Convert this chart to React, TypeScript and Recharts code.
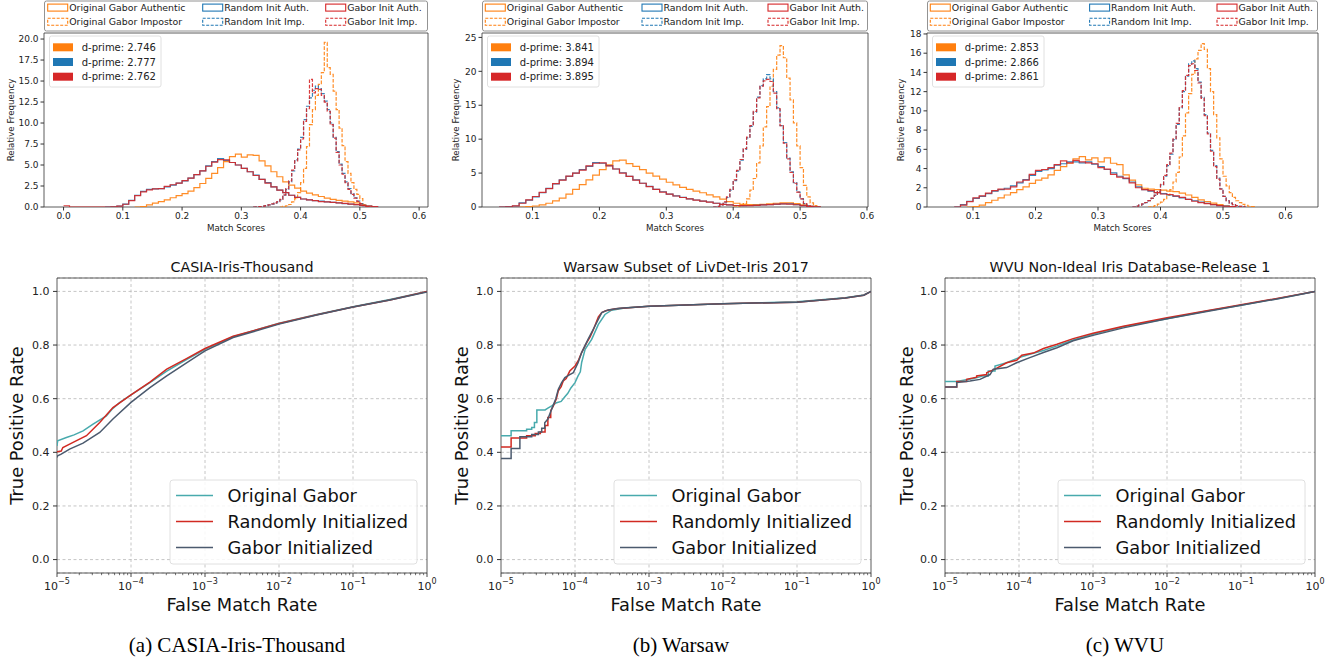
import React from "react";
import {
  LineChart,
  Line,
  XAxis,
  YAxis,
  CartesianGrid,
  ReferenceLine,
  ReferenceArea,
} from "recharts";

const ORANGE = "#ff7f0e";
const BLUE = "#1f77b4";
const RED = "#d62728";
const TEAL = "#48aaad";
const ROC_RED = "#d12a22";
const SLATE = "#4b5a6e";
const FONT = "'DejaVu Sans', Verdana, sans-serif";
const INK = "#222";
const FRAME = "#333";

// ---------- histogram data (relative frequency per bin) ----------
// authentic: 0.01 wide bins, impostor: 0.005 wide bins; first number = left edge of first bin
const casiaOrigAuth = [0, 0.05, 0.25, 0.45, 0.65, 0.85, 1.1, 1.35, 1.6, 1.9, 2.3, 2.8, 3.4, 4.0, 4.7, 5.4, 6.0, 6.3, 5.95, 6.2, 6.15, 5.5, 4.9, 4.2, 3.6, 3.0, 2.6, 2.25, 1.9, 1.65, 1.45, 1.25, 1.05, 0.9, 0.8, 0.7, 0.62, 0.48, 0.25, 0.1, 0];
const casiaOrigImp = [0, 0.07, 0.15, 0.3, 0.6, 1.0, 1.7, 2.9, 4.6, 7.2, 9.8, 11.6, 13.3, 14.6, 16.0, 19.6, 16.6, 15.8, 13.8, 11.6, 9.4, 7.3, 5.4, 4.0, 2.9, 2.1, 1.5, 1.0, 0.3, 0.05, 0];
const casiaRandAuth = [0, 0.02, 0.1, 0.35, 0.8, 1.4, 1.85, 2.1, 2.15, 2.2, 2.4, 2.6, 2.85, 3.1, 3.45, 3.85, 4.3, 4.9, 5.4, 5.75, 5.55, 5.3, 5.0, 4.6, 4.2, 3.8, 3.3, 2.9, 2.4, 2.0, 1.7, 1.4, 1.15, 0.95, 0.85, 0.75, 0.7, 0.6, 0.55, 0.5, 0.4, 0.35, 0.28, 0.2, 0.12, 0.05, 0];
const casiaRandImp = [0, 0.03, 0.06, 0.1, 0.16, 0.25, 0.35, 0.45, 0.6, 0.85, 1.4, 2.1, 3.0, 4.3, 5.6, 6.9, 8.3, 10.4, 12.0, 13.0, 13.9, 14.4, 14.1, 13.5, 12.6, 11.6, 10.0, 8.3, 6.6, 5.1, 4.0, 3.0, 2.2, 1.6, 1.1, 0.7, 0.4, 0.15, 0.05, 0];
const casiaGaborAuth = [0.15, 0, 0, 0, 0, 0, 0, 0, 0.03, 0.1, 0.33, 0.75, 1.35, 1.8, 2.05, 2.15, 2.2, 2.45, 2.65, 2.85, 3.15, 3.45, 3.85, 4.3, 4.85, 5.35, 5.65, 5.6, 5.3, 5.0, 4.6, 4.2, 3.75, 3.3, 2.85, 2.4, 2.0, 1.7, 1.4, 1.15, 0.95, 0.85, 0.75, 0.65, 0.6, 0.55, 0.5, 0.42, 0.35, 0.28, 0.2, 0.1, 0.04, 0];
const casiaGaborImp = [0, 0.03, 0.06, 0.1, 0.17, 0.26, 0.38, 0.5, 0.65, 0.9, 1.45, 2.2, 3.1, 4.4, 5.5, 6.8, 8.1, 10.2, 11.7, 15.2, 13.6, 14.1, 14.0, 13.3, 12.5, 11.4, 9.8, 8.2, 6.5, 5.0, 3.9, 2.9, 2.1, 1.5, 1.05, 0.68, 0.4, 0.15, 0.05, 0];

const warsawOrigAuth = [0, 0.05, 0.15, 0.3, 0.55, 0.9, 1.3, 1.9, 2.6, 3.3, 4.0, 4.7, 5.5, 6.2, 6.8, 6.9, 6.4, 6.0, 5.5, 5.0, 4.55, 4.1, 3.65, 3.25, 2.9, 2.6, 2.35, 2.1, 1.8, 1.5, 1.15, 0.8, 0.55, 0.4, 0.35, 0.35, 0.4, 0.45, 0.55, 0.6, 0.6, 0.5, 0.3, 0.1, 0.02, 0];
const warsawOrigImp = [0, 0.05, 0.2, 0.5, 1.2, 2.5, 4.2, 6.5, 9.0, 11.8, 14.8, 17.8, 20.3, 22.4, 23.8, 22.0, 19.0, 15.8, 12.4, 9.0, 5.8, 3.2, 1.5, 0.6, 0.2, 0];
const warsawRandAuth = [0, 0.05, 0.15, 0.6, 1.0, 1.5, 2.1, 2.75, 3.4, 4.0, 4.5, 5.0, 5.5, 6.0, 6.55, 6.45, 6.1, 5.6, 5.05, 4.5, 4.0, 3.5, 3.05, 2.6, 2.25, 1.9, 1.65, 1.43, 1.2, 1.03, 0.88, 0.74, 0.55, 0.4, 0.3, 0.22, 0.2, 0.22, 0.25, 0.3, 0.35, 0.4, 0.45, 0.45, 0.35, 0.2, 0.08, 0.02, 0];
const warsawRandImp = [0, 0.1, 0.3, 0.7, 1.4, 2.5, 3.9, 5.3, 6.9, 8.5, 10.2, 11.9, 14.0, 16.2, 17.9, 18.9, 19.5, 18.9, 17.0, 14.6, 12.0, 9.5, 7.2, 5.2, 3.6, 2.2, 1.2, 0.5, 0.2, 0.05, 0];
const warsawGaborAuth = [0, 0.04, 0.17, 0.55, 1.05, 1.55, 2.15, 2.7, 3.45, 3.95, 4.55, 5.0, 5.45, 6.05, 6.45, 6.5, 6.05, 5.6, 5.0, 4.5, 3.95, 3.5, 3.0, 2.6, 2.2, 1.9, 1.62, 1.4, 1.2, 1.0, 0.86, 0.72, 0.55, 0.4, 0.3, 0.22, 0.2, 0.21, 0.25, 0.3, 0.35, 0.42, 0.45, 0.43, 0.33, 0.2, 0.08, 0.02, 0];
const warsawGaborImp = [0, 0.1, 0.3, 0.75, 1.5, 2.6, 4.0, 5.4, 7.0, 8.6, 10.3, 12.0, 14.1, 16.1, 17.8, 18.6, 18.8, 18.5, 16.8, 14.5, 12.0, 9.4, 7.1, 5.1, 3.5, 2.2, 1.2, 0.5, 0.2, 0.05, 0];

const wvuOrigAuth = [0, 0.03, 0.2, 0.45, 0.7, 0.95, 1.25, 1.5, 1.8, 2.1, 2.45, 2.8, 3.0, 3.35, 3.8, 4.2, 4.55, 5.0, 5.25, 4.9, 5.1, 4.7, 5.1, 4.55, 4.4, 3.35, 2.8, 2.3, 1.95, 1.85, 1.8, 1.75, 1.65, 1.6, 1.45, 1.25, 1.0, 0.75, 0.55, 0.4, 0.25, 0.12, 0.05, 0];
const wvuOrigImp = [0, 0.05, 0.15, 0.3, 0.5, 0.8, 1.2, 1.8, 2.6, 3.6, 5.2, 7.4, 9.8, 11.8, 13.8, 15.4, 16.3, 17.0, 16.4, 14.4, 12.0, 9.6, 7.2, 5.0, 3.2, 2.2, 1.5, 1.0, 0.65, 0.45, 0.28, 0.18, 0.08, 0.03, 0];
const wvuRandAuth = [0, 0.25, 0.6, 0.9, 1.1, 1.4, 1.65, 1.8, 1.95, 2.2, 2.5, 2.85, 3.3, 3.7, 3.85, 4.0, 4.35, 4.5, 4.7, 4.7, 4.6, 4.7, 4.45, 4.2, 3.9, 3.55, 3.2, 2.95, 2.6, 2.1, 1.8, 1.65, 1.5, 1.4, 1.25, 1.1, 0.95, 0.8, 0.65, 0.5, 0.38, 0.25, 0.15, 0.1, 0.05, 0];
const wvuRandImp = [0, 0.1, 0.2, 0.3, 0.45, 0.65, 0.9, 1.2, 1.6, 2.3, 3.2, 4.3, 5.5, 7.0, 8.6, 10.3, 12.0, 13.6, 14.9, 15.2, 14.4, 13.0, 11.4, 9.6, 7.7, 5.9, 4.3, 3.0, 1.9, 1.1, 0.65, 0.4, 0.25, 0.14, 0.07, 0.03, 0];
const wvuGaborAuth = [0, 0.2, 0.55, 0.95, 1.15, 1.45, 1.7, 1.85, 1.85, 2.1, 2.6, 2.8, 3.4, 3.8, 3.9, 4.1, 4.4, 4.8, 4.6, 4.85, 4.7, 4.6, 4.5, 4.1, 3.95, 3.4, 3.1, 3.0, 2.5, 2.0, 1.8, 1.7, 1.5, 1.35, 1.3, 1.15, 1.0, 0.8, 0.6, 0.45, 0.35, 0.25, 0.15, 0.08, 0.03, 0];
const wvuGaborImp = [0, 0.1, 0.2, 0.32, 0.47, 0.66, 0.92, 1.25, 1.65, 2.35, 3.3, 4.4, 5.6, 7.1, 8.7, 10.4, 12.1, 13.7, 14.7, 14.9, 14.2, 12.9, 11.3, 9.5, 7.6, 5.8, 4.2, 2.9, 1.85, 1.1, 0.65, 0.4, 0.25, 0.14, 0.07, 0.03, 0];

const casiaDprime = [2.746, 2.777, 2.762];
const warsawDprime = [3.841, 3.894, 3.895];
const wvuDprime = [2.853, 2.866, 2.861];

// ---------- ROC data: [false match rate, true positive rate] ----------
const casiaOriginal = [[1e-5, 0.424], [1.02e-5, 0.443], [1.34e-5, 0.455], [1.7e-5, 0.465], [2.25e-5, 0.48], [3.07e-5, 0.505], [4.65e-5, 0.536], [5.5e-5, 0.56], [7e-5, 0.585], [1e-4, 0.614], [1.8e-4, 0.66], [3.04e-4, 0.703], [5.7e-4, 0.747], [1e-3, 0.784], [2.4e-3, 0.831], [1e-2, 0.881], [3.24e-2, 0.914], [0.1, 0.943], [0.316, 0.97], [1, 1.0]];
const casiaRandom = [[1e-5, 0.402], [1.14e-5, 0.405], [1.2e-5, 0.418], [1.65e-5, 0.437], [2.5e-5, 0.462], [3.78e-5, 0.511], [5.7e-5, 0.567], [1e-4, 0.614], [1.8e-4, 0.662], [3.04e-4, 0.71], [5.7e-4, 0.75], [1e-3, 0.787], [2.4e-3, 0.833], [1e-2, 0.88], [3.24e-2, 0.913], [0.1, 0.942], [0.316, 0.968], [1, 1.0]];
const casiaGabor = [[1e-5, 0.381], [1.02e-5, 0.387], [1.14e-5, 0.393], [1.48e-5, 0.412], [2.25e-5, 0.434], [3.78e-5, 0.474], [5.7e-5, 0.524], [1e-4, 0.586], [1.8e-4, 0.641], [3.04e-4, 0.685], [5.7e-4, 0.734], [1e-3, 0.778], [2.4e-3, 0.828], [1e-2, 0.878], [3.24e-2, 0.912], [0.1, 0.942], [0.316, 0.968], [1, 0.998]];

const warsawOriginal = [[1e-5, 0.462], [1.37e-5, 0.462], [1.37e-5, 0.48], [2.22e-5, 0.48], [2.22e-5, 0.486], [2.6e-5, 0.486], [2.6e-5, 0.493], [2.83e-5, 0.493], [2.83e-5, 0.511], [3.05e-5, 0.511], [3.05e-5, 0.558], [3.94e-5, 0.558], [4.3e-5, 0.565], [4.84e-5, 0.573], [5.65e-5, 0.585], [6.5e-5, 0.59], [7.2e-5, 0.605], [8e-5, 0.62], [8.8e-5, 0.64], [1e-4, 0.66], [1.1e-4, 0.685], [1.18e-4, 0.7], [1.23e-4, 0.735], [1.37e-4, 0.784], [1.68e-4, 0.821], [2.07e-4, 0.877], [2.54e-4, 0.914], [3.12e-4, 0.93], [4.7e-4, 0.938], [1e-3, 0.945], [1e-2, 0.954], [0.1, 0.961], [0.45, 0.976], [0.8, 0.987], [1, 1.0]];
const warsawRandom = [[1e-5, 0.42], [1.37e-5, 0.42], [1.37e-5, 0.453], [2.22e-5, 0.453], [2.22e-5, 0.462], [2.9e-5, 0.462], [2.9e-5, 0.47], [3.4e-5, 0.47], [3.4e-5, 0.476], [3.94e-5, 0.476], [3.94e-5, 0.5], [4.3e-5, 0.5], [4.3e-5, 0.53], [4.7e-5, 0.53], [4.7e-5, 0.555], [5.1e-5, 0.573], [5.6e-5, 0.6], [5.95e-5, 0.629], [6.5e-5, 0.645], [6.94e-5, 0.666], [7.6e-5, 0.675], [8.5e-5, 0.703], [1e-4, 0.722], [1.12e-4, 0.745], [1.23e-4, 0.772], [1.44e-4, 0.809], [1.6e-4, 0.83], [1.78e-4, 0.859], [2.07e-4, 0.905], [2.3e-4, 0.921], [2.6e-4, 0.928], [3.5e-4, 0.935], [1e-3, 0.945], [1e-2, 0.954], [0.1, 0.96], [0.45, 0.975], [0.8, 0.986], [1, 1.0]];
const warsawGabor = [[1e-5, 0.377], [1.37e-5, 0.377], [1.37e-5, 0.414], [1.8e-5, 0.414], [1.8e-5, 0.458], [2.6e-5, 0.458], [2.6e-5, 0.466], [3.2e-5, 0.466], [3.2e-5, 0.476], [3.55e-5, 0.476], [3.55e-5, 0.49], [3.9e-5, 0.49], [3.9e-5, 0.51], [4.3e-5, 0.524], [4.84e-5, 0.561], [5.5e-5, 0.6], [5.95e-5, 0.635], [6.6e-5, 0.66], [7.3e-5, 0.679], [8.5e-5, 0.69], [9.5e-5, 0.697], [1.1e-4, 0.734], [1.23e-4, 0.772], [1.5e-4, 0.821], [1.86e-4, 0.871], [2.3e-4, 0.921], [2.8e-4, 0.931], [4e-4, 0.937], [1e-3, 0.945], [1e-2, 0.954], [0.1, 0.96], [0.45, 0.975], [0.8, 0.986], [1, 1.0]];

const wvuOriginal = [[1e-5, 0.664], [1.44e-5, 0.664], [1.86e-5, 0.67], [2.42e-5, 0.675], [3.3e-5, 0.685], [3.85e-5, 0.685], [3.85e-5, 0.703], [4.74e-5, 0.703], [4.74e-5, 0.722], [6.8e-5, 0.734], [1e-4, 0.753], [1.4e-4, 0.766], [2.14e-4, 0.78], [3.26e-4, 0.797], [5.4e-4, 0.819], [1e-3, 0.84], [2.57e-3, 0.868], [1e-2, 0.898], [3.45e-2, 0.927], [0.1, 0.948], [0.307, 0.973], [1, 1.0]];
const wvuRandom = [[1e-5, 0.644], [1.44e-5, 0.644], [1.44e-5, 0.664], [1.96e-5, 0.664], [1.96e-5, 0.672], [2.68e-5, 0.68], [2.68e-5, 0.685], [3.66e-5, 0.69], [3.66e-5, 0.697], [4.74e-5, 0.71], [6.8e-5, 0.734], [9.3e-5, 0.743], [1.09e-4, 0.762], [1.56e-4, 0.77], [2.14e-4, 0.787], [3.26e-4, 0.803], [5.4e-4, 0.824], [1e-3, 0.844], [2.57e-3, 0.87], [1e-2, 0.902], [3.45e-2, 0.928], [0.1, 0.95], [0.307, 0.974], [1, 1.0]];
const wvuGabor = [[1e-5, 0.644], [1.44e-5, 0.644], [1.44e-5, 0.66], [2.18e-5, 0.666], [2.97e-5, 0.672], [4.06e-5, 0.69], [4.5e-5, 0.71], [6.8e-5, 0.716], [9.3e-5, 0.734], [1.4e-4, 0.753], [2.14e-4, 0.772], [3.26e-4, 0.79], [5.4e-4, 0.816], [1e-3, 0.836], [2.57e-3, 0.864], [1e-2, 0.898], [3.45e-2, 0.925], [0.1, 0.948], [0.307, 0.972], [1, 1.0]];

const histLegendLabels = [
  ["Original Gabor Authentic", "Original Gabor Impostor"],
  ["Random Init Auth.", "Random Init Imp."],
  ["Gabor Init Auth.", "Gabor Init Imp."],
];
const rocLegendLabels = ["Original Gabor", "Randomly Initialized", "Gabor Initialized"];
const captions = ["(a) CASIA-Iris-Thousand", "(b) Warsaw", "(c) WVU"];
const rocTitles = ["CASIA-Iris-Thousand", "Warsaw Subset of LivDet-Iris 2017", "WVU Non-Ideal Iris Database-Release 1"];

const bins = (start: number, width: number, values: number[]) =>
  values.map((y, i) => ({ x: +(start + i * width).toFixed(4), y }));
const pts = (a: number[][]) => a.map(([x, y]) => ({ x, y }));

type Series = { color: string; dashed?: boolean; data: { x: number; y: number }[] };

const histPanels = [
  {
    left: 0, width: 440, yW: 44, mr: 12,
    xDomain: [-0.033, 0.615], xTicks: [0, 0.1, 0.2, 0.3, 0.4, 0.5, 0.6],
    yDomain: [0, 20.72], yTicks: [0, 2.5, 5, 7.5, 10, 12.5, 15, 17.5, 20], yDigits: 1,
    dprime: casiaDprime, cols: [3.7, 158.7, 281.7],
    series: [
      { color: ORANGE, data: bins(0.12, 0.01, casiaOrigAuth) },
      { color: ORANGE, dashed: true, data: bins(0.365, 0.005, casiaOrigImp) },
      { color: BLUE, data: bins(0.07, 0.01, casiaRandAuth) },
      { color: BLUE, dashed: true, data: bins(0.32, 0.005, casiaRandImp) },
      { color: RED, data: bins(0.0, 0.01, casiaGaborAuth) },
      { color: RED, dashed: true, data: bins(0.32, 0.005, casiaGaborImp) },
    ] as Series[],
  },
  {
    left: 445, width: 445, yW: 37, mr: 22,
    xDomain: [0.0245, 0.6015], xTicks: [0.1, 0.2, 0.3, 0.4, 0.5, 0.6],
    yDomain: [0, 25.65], yTicks: [0, 5, 10, 15, 20, 25], yDigits: 0,
    dprime: warsawDprime, cols: [3.3, 160, 286],
    series: [
      { color: ORANGE, data: bins(0.08, 0.01, warsawOrigAuth) },
      { color: ORANGE, dashed: true, data: bins(0.4, 0.005, warsawOrigImp) },
      { color: BLUE, data: bins(0.05, 0.01, warsawRandAuth) },
      { color: BLUE, dashed: true, data: bins(0.37, 0.005, warsawRandImp) },
      { color: RED, data: bins(0.05, 0.01, warsawGaborAuth) },
      { color: RED, dashed: true, data: bins(0.37, 0.005, warsawGaborImp) },
    ] as Series[],
  },
  {
    left: 890, width: 447, yW: 37, mr: 19,
    xDomain: [0.0264, 0.652], xTicks: [0.1, 0.2, 0.3, 0.4, 0.5, 0.6],
    yDomain: [0, 18.1], yTicks: [0, 2, 4, 6, 8, 10, 12, 14, 16, 18], yDigits: 0,
    dprime: wvuDprime, cols: [3.3, 162.6, 290],
    series: [
      { color: ORANGE, data: bins(0.09, 0.01, wvuOrigAuth) },
      { color: ORANGE, dashed: true, data: bins(0.38, 0.005, wvuOrigImp) },
      { color: BLUE, data: bins(0.07, 0.01, wvuRandAuth) },
      { color: BLUE, dashed: true, data: bins(0.355, 0.005, wvuRandImp) },
      { color: RED, data: bins(0.07, 0.01, wvuGaborAuth) },
      { color: RED, dashed: true, data: bins(0.355, 0.005, wvuGaborImp) },
    ] as Series[],
  },
];

const rocPanels = [
  { left: 0, width: 440, yW: 57, mr: 13, series: [casiaOriginal, casiaRandom, casiaGabor] },
  { left: 445, width: 445, yW: 56, mr: 19, series: [warsawOriginal, warsawRandom, warsawGabor] },
  { left: 890, width: 447, yW: 55, mr: 22, series: [wvuOriginal, wvuRandom, wvuGabor] },
];
const rocColors = [TEAL, ROC_RED, SLATE];

const logTicks: number[] = [];
for (let e = -5; e < 0; e++) for (let k = 1; k < 10; k++) logTicks.push(+(k * 10 ** e).toPrecision(3));
logTicks.push(1);
const gridX = [1e-4, 1e-3, 1e-2, 1e-1];
const rocYTicks = [0, 0.2, 0.4, 0.6, 0.8, 1.0];

const HIST_TOP = 33;
const HIST_H = 235;
const ROC_TOP = 250;
const ROC_H = 370;

function LogTick(props: any) {
  const { x, y, payload } = props;
  const e = Math.log10(payload.value);
  const exp = Math.round(e);
  const major = Math.abs(e - exp) < 1e-6;
  return (
    <g>
      <line x1={x} x2={x} y1={y} y2={y + (major ? 4 : 2.2)} stroke={FRAME} strokeWidth={major ? 0.9 : 0.7} />
      {major && (
        <text x={x} y={y + 17} textAnchor="middle" fontSize={11} fill={INK} fontFamily={FONT}>
          10
          <tspan dy={-6} fontSize={8}>{exp === 0 ? "0" : "\u2212" + Math.abs(exp)}</tspan>
        </text>
      )}
    </g>
  );
}

function HistPanel({ p }: { p: (typeof histPanels)[number] }) {
  return (
    <div style={{ position: "absolute", left: p.left, top: 0 }}>
      <LineChart width={p.width} height={HIST_H} margin={{ top: HIST_TOP, right: p.mr, bottom: 4, left: 0 }} style={{ fontFamily: FONT }}>
        <XAxis
          type="number"
          dataKey="x"
          domain={p.xDomain}
          ticks={p.xTicks}
          interval={0}
          allowDataOverflow
          tickFormatter={(v: number) => v.toFixed(1)}
          tick={{ fontSize: 9, fill: INK }}
          tickSize={3.5}
          tickMargin={2}
          tickLine={{ stroke: FRAME }}
          axisLine={false}
          height={24}
          label={{ value: "Match Scores", position: "insideBottom", offset: 0, fontSize: 8.7, fill: INK }}
        />
        <YAxis
          type="number"
          domain={p.yDomain}
          ticks={p.yTicks}
          interval={0}
          allowDataOverflow
          width={p.yW}
          tickFormatter={(v: number) => v.toFixed(p.yDigits)}
          tick={{ fontSize: 9, fill: INK }}
          tickSize={3.5}
          tickMargin={2}
          tickLine={{ stroke: FRAME }}
          axisLine={false}
          label={{
            value: "Relative Frequency",
            angle: -90,
            position: "insideLeft",
            offset: 11,
            fontSize: 8.7,
            fill: INK,
            style: { textAnchor: "middle" },
          }}
        />
        {p.series.map((s, i) => (
          <Line
            key={i}
            data={s.data}
            dataKey="y"
            type="stepAfter"
            stroke={s.color}
            strokeOpacity={0.9}
            strokeWidth={1.2}
            strokeDasharray={s.dashed ? "3.7 1.6" : undefined}
            dot={false}
            activeDot={false}
            isAnimationActive={false}
          />
        ))}
        <ReferenceArea
          x1={p.xDomain[0]}
          x2={p.xDomain[1]}
          y1={p.yDomain[0]}
          y2={p.yDomain[1]}
          fill="none"
          stroke={FRAME}
          strokeWidth={0.8}
        />
      </LineChart>
    </div>
  );
}

function RocPanel({ p }: { p: (typeof rocPanels)[number] }) {
  return (
    <div style={{ position: "absolute", left: p.left, top: ROC_TOP }}>
      <LineChart width={p.width} height={ROC_H} margin={{ top: 28, right: p.mr, bottom: 7, left: 0 }} style={{ fontFamily: FONT }}>
        <CartesianGrid vertical={false} stroke="#b8b8b8" strokeDasharray="3 2.5" strokeWidth={0.8} />
        {gridX.map((v) => (
          <ReferenceLine key={v} x={v} stroke="#b8b8b8" strokeDasharray="3 2.5" strokeWidth={0.8} />
        ))}
        <XAxis
          type="number"
          dataKey="x"
          scale="log"
          domain={[1e-5, 1]}
          ticks={logTicks}
          interval={0}
          allowDataOverflow
          tick={<LogTick />}
          tickSize={0}
          tickMargin={0}
          tickLine={false}
          axisLine={false}
          height={40}
          label={{ value: "False Match Rate", position: "insideBottom", offset: 2, fontSize: 17.8, fill: "#111" }}
        />
        <YAxis
          type="number"
          domain={[-0.05, 1.05]}
          ticks={rocYTicks}
          interval={0}
          allowDataOverflow
          width={p.yW}
          tickFormatter={(v: number) => v.toFixed(1)}
          tick={{ fontSize: 11, fill: INK }}
          tickSize={4}
          tickMargin={3.5}
          tickLine={{ stroke: FRAME }}
          axisLine={false}
          label={{
            value: "True Positive Rate",
            angle: -90,
            position: "insideLeft",
            offset: 16.5,
            fontSize: 17.8,
            fill: "#111",
            style: { textAnchor: "middle" },
          }}
        />
        {p.series.map((s, i) => (
          <Line
            key={i}
            data={pts(s)}
            dataKey="y"
            type="linear"
            stroke={rocColors[i]}
            strokeWidth={1.5}
            dot={false}
            activeDot={false}
            isAnimationActive={false}
          />
        ))}
        <ReferenceArea x1={1e-5} x2={1} y1={-0.05} y2={1.05} fill="none" stroke={FRAME} strokeWidth={0.8} />
      </LineChart>
    </div>
  );
}

function Overlay() {
  return (
    <svg width={1337} height={663} style={{ position: "absolute", left: 0, top: 0, pointerEvents: "none", fontFamily: FONT }}>
      {histPanels.map((p, pi) => {
        const L = p.left + p.yW;
        const R = p.left + p.width - p.mr;
        const colors = [ORANGE, BLUE, RED];
        return (
          <g key={"h" + pi}>
            {/* top legend */}
            <rect x={L + 0.5} y={1} width={R - L - 1} height={30} rx={2} fill="#fff" stroke="#777" strokeWidth={0.8} />
            {histLegendLabels.map((col, ci) =>
              col.map((lab, ri) => {
                const cy = ri === 0 ? 7.6 : 21.8;
                const x = L + p.cols[ci];
                return (
                  <g key={ci + "-" + ri}>
                    <rect x={x} y={cy - 3.5} width={20} height={7} fill="none" stroke={colors[ci]} strokeWidth={1.1} strokeDasharray={ri === 1 ? "3 1.5" : undefined} />
                    <text x={x + 21.5} y={cy + 3.4} fontSize={9.4} fill={INK}>{lab}</text>
                  </g>
                );
              })
            )}
            {/* d-prime legend */}
            <rect x={L + 5.5} y={36} width={111.5} height={51} rx={2} fill="#fff" fillOpacity={0.85} stroke="#d8d8d8" strokeWidth={0.8} />
            {p.dprime.map((d, di) => {
              const cy = 47.3 + di * 14.7;
              return (
                <g key={di}>
                  <rect x={L + 9} y={cy - 4} width={20} height={8} fill={colors[di]} />
                  <text x={L + 37.7} y={cy + 3.6} fontSize={10} fill={INK}>{"d-prime: " + d.toFixed(3)}</text>
                </g>
              );
            })}
          </g>
        );
      })}
      {rocPanels.map((p, pi) => {
        const L = p.left + p.yW;
        const R = p.left + p.width - p.mr;
        const bx = R - 10 - 247;
        const by = 480;
        return (
          <g key={"r" + pi}>
            <text x={(L + R) / 2} y={272} textAnchor="middle" fontSize={14.3} fill="#111">{rocTitles[pi]}</text>
            <rect x={bx} y={by} width={247} height={84} rx={3} fill="#fff" fillOpacity={0.85} stroke="#d8d8d8" strokeWidth={0.8} />
            {rocLegendLabels.map((lab, li) => {
              const cy = by + 15.5 + li * 26;
              return (
                <g key={li}>
                  <line x1={bx + 6} x2={bx + 43} y1={cy} y2={cy} stroke={rocColors[li]} strokeWidth={1.5} />
                  <text x={bx + 57.5} y={cy + 6.5} fontSize={17.8} fill="#111">{lab}</text>
                </g>
              );
            })}
          </g>
        );
      })}
      {rocPanels.map((p, pi) => {
        const L = p.left + p.yW;
        const R = p.left + p.width - p.mr;
        return (
          <text key={"c" + pi} x={(L + R) / 2 - 5} y={652} textAnchor="middle" fontSize={21} fill="#000" fontFamily="'Liberation Serif', 'Times New Roman', serif">
            {captions[pi]}
          </text>
        );
      })}
    </svg>
  );
}

export default function App() {
  return (
    <div style={{ position: "absolute", left: 0, top: 0, width: 1337, height: 663, background: "#fff", fontFamily: FONT }}>
      {histPanels.map((p, i) => (
        <HistPanel key={i} p={p} />
      ))}
      {rocPanels.map((p, i) => (
        <RocPanel key={i} p={p} />
      ))}
      <Overlay />
    </div>
  );
}
